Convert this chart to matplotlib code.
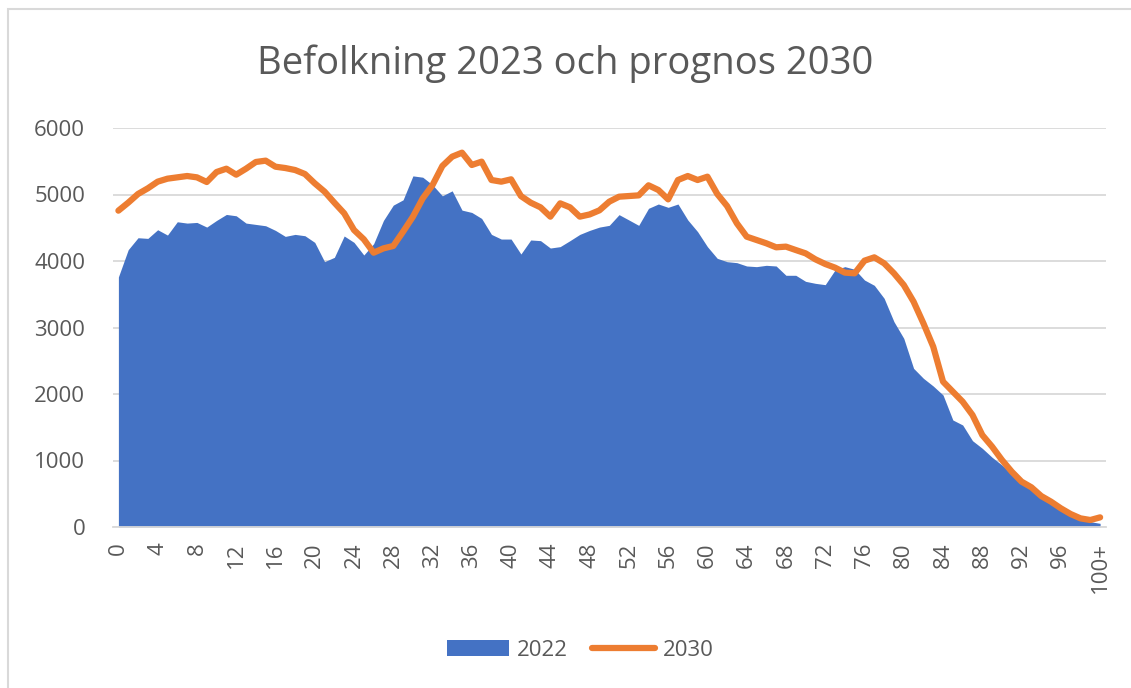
import matplotlib
matplotlib.use("Agg")
import matplotlib.pyplot as plt
from matplotlib.patches import Rectangle, Patch
from matplotlib.lines import Line2D

plt.rcParams['font.family'] = ['Open Sans', 'DejaVu Sans']

ages = list(range(100)) + ["100+"]

pop_2022 = [
    3760, 4170, 4350, 4340, 4470, 4390, 4590, 4570, 4580, 4510,
    4610, 4700, 4680, 4570, 4550, 4530, 4460, 4370, 4400, 4380,
    4280, 3990, 4055, 4376, 4280, 4090, 4260, 4610, 4840, 4920,
    5280, 5260, 5145, 4980, 5055, 4765, 4730, 4640, 4400, 4330,
    4330, 4105, 4316, 4306, 4195, 4216, 4306, 4400, 4460, 4510,
    4536, 4697, 4617, 4536, 4792, 4857, 4807, 4857, 4617, 4441,
    4215, 4040, 3990, 3975, 3925, 3915, 3935, 3925, 3785, 3785,
    3694, 3664, 3644, 3865, 3915, 3875, 3714, 3634, 3439, 3088,
    2837, 2386, 2236, 2120, 1985, 1609, 1534, 1298, 1183, 1048,
    932, 807, 667, 581, 456, 356, 266, 195, 130, 80,
    55,
]

pop_2030 = [
    4757, 4877, 5008, 5093, 5193, 5238, 5258, 5278, 5258, 5188,
    5338, 5388, 5298, 5388, 5489, 5509, 5418, 5398, 5368, 5308,
    5168, 5043, 4877, 4717, 4466, 4326, 4125, 4190, 4226, 4441,
    4666, 4942, 5143, 5429, 5569, 5629, 5444, 5494, 5218, 5193,
    5228, 4977, 4877, 4807, 4667, 4867, 4807, 4667, 4700, 4762,
    4892, 4967, 4977, 4987, 5138, 5068, 4927, 5218, 5278, 5218,
    5268, 5008, 4827, 4566, 4366, 4316, 4266, 4206, 4216, 4165,
    4115, 4025, 3955, 3900, 3825, 3815, 4005, 4055, 3965, 3815,
    3639, 3388, 3063, 2712, 2186, 2035, 1884, 1684, 1383, 1208,
    1008, 832, 682, 597, 466, 381, 281, 195, 130, 105,
    145,
]

blue = "#4472c4"
orange = "#ed7d31"
grey = "#595959"

fig = plt.figure(figsize=(11.31, 6.88), dpi=100)
ax = fig.add_axes([113 / 1131, 1 - 527 / 688, (1106 - 113) / 1131, (527 - 128) / 688])

x = list(range(len(ages)))
ax.fill_between(x, 0, pop_2022, color=blue, linewidth=0, zorder=2)
ax.plot(x, pop_2030, color=orange, linewidth=4.5, solid_capstyle="round", solid_joinstyle="round", zorder=3)

ax.set_xlim(-0.55, 100.6)
ax.set_ylim(0, 6000)
ax.set_yticks(range(0, 6001, 1000))
ax.grid(axis="y", color="#d9d9d9", linewidth=1.3, zorder=0)
ax.set_axisbelow(True)

tick_pos = list(range(0, 101, 4))
ax.set_xticks(tick_pos)
ax.set_xticklabels([str(ages[i]) for i in tick_pos], rotation=90)
ax.tick_params(axis="both", length=0, labelsize=16, labelcolor=grey)
ax.tick_params(axis="x", pad=11)
ax.tick_params(axis="y", pad=20)

for s in ["top", "right", "left"]:
    ax.spines[s].set_visible(False)
ax.spines["bottom"].set_color("#d9d9d9")
ax.spines["bottom"].set_linewidth(1.3)

fig.text(0.5, 1 - 64 / 688, "Befolkning 2023 och prognos 2030", ha="center", va="center",
         fontsize=27.5, color=grey)

handles = [Patch(facecolor=blue, edgecolor="none"),
           Line2D([0], [0], color=orange, linewidth=4.5, solid_capstyle="round")]
fig.legend(handles, ["2022", "2030"], loc="center", bbox_to_anchor=(0.513, 1 - 650 / 688),
           ncol=2, frameon=False, fontsize=16, labelcolor=grey, handlelength=2.8,
           handleheight=0.75, columnspacing=1.1, handletextpad=0.35)

fig.patches.append(Rectangle((8 / 1131, -0.1), 1.2, 1 - 9 / 688 + 0.1, transform=fig.transFigure,
                             fill=False, edgecolor="#d9d9d9", linewidth=1.5))

fig.savefig("out.png", dpi=100)
